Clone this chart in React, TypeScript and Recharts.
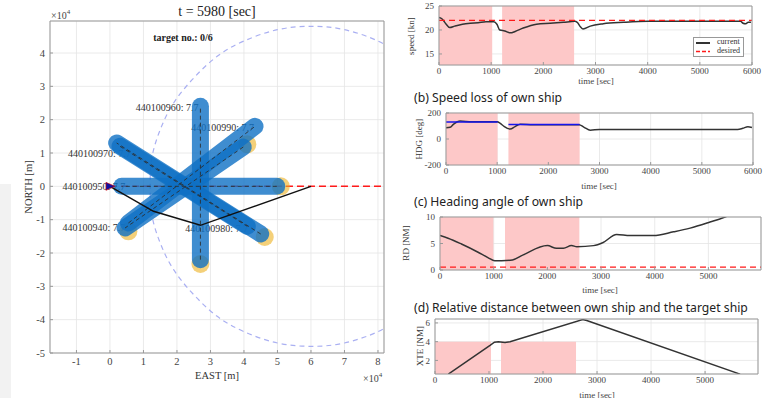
import React from 'react';
import { ComposedChart, Line, Scatter, XAxis, YAxis, CartesianGrid, ReferenceArea } from 'recharts';

const SERIF = "'Liberation Serif', 'Times New Roman', serif";
const SANS = "'Noto Sans', 'Open Sans', sans-serif";

// ---------- (a) map panel ----------
const eastTicks = [-1, 0, 1, 2, 3, 4, 5, 6, 7, 8];
const northTicks = [-5, -4, -3, -2, -1, 0, 1, 2, 3, 4];
const eastDomain = [-1.79, 8.18];
const northDomain = [-5, 4.96];

const targetIds = ['440100960', '440100990', '440100970', '440100950', '440100940', '440100980'];
const targetSpeeds = [7.7, 7.7, 7.7, 7.7, 7.7, 7.7];
const trackStartEast = [2.7, 0.55, 4.5, 4.98, 3.98, 0.3];
const trackStartNorth = [-2.2, -1.1, -1.43, 0, 1.18, 1.2];
const trackEndEast = [2.7, 4.33, 0.2, 0.35, 0.45, 4.1];
const trackEndNorth = [2.4, 1.8, 1.3, 0, -1.25, -1.2];
const labelEast = [2.64, 4.3, 0.62, 0.46, 0.46, 4.12];
const labelNorth = [2.38, 1.76, 1.0, 0, -1.23, -1.26];
const yellowEast = [2.7, 4.62, 5.1, 4.1, 0.55];
const yellowNorth = [-2.33, -1.52, 0, 1.26, -1.35];

const ownEast = [0, 1.3, 2.7, 6.0];
const ownNorth = [0, -0.75, -1.17, 0];
const routeEast = [0, 6.0, 9.5];
const routeNorth = [0, 0, 0];

const circleEast = [8.6, 8.0, 7.0, 6.0, 5.0, 4.0, 3.2, 2.5, 1.9, 1.5, 1.25, 1.2, 1.25, 1.5, 1.9, 2.5, 3.2, 4.0, 5.0, 6.0, 7.0, 8.0, 8.6];
const circleNorth = [4.0, 4.36, 4.7, 4.8, 4.7, 4.36, 3.9, 3.25, 2.5, 1.7, 0.85, 0, -0.85, -1.7, -2.5, -3.25, -3.9, -4.36, -4.7, -4.8, -4.7, -4.36, -4.0];

// ---------- (b) speed ----------
const speedTime = [0, 60, 130, 205, 300, 450, 600, 750, 900, 1050, 1110, 1165, 1260, 1370, 1460, 1615, 1870, 2130, 2385, 2600, 2650, 2700, 2760, 2900, 3150, 3540, 4000, 5000, 5780, 5830, 5870, 5930, 5980];
const speedKn = [22.6, 22.3, 21.3, 20.5, 20.8, 21.2, 21.4, 21.5, 21.7, 21.7, 21.2, 20.0, 19.8, 19.4, 19.7, 20.4, 21.2, 21.4, 21.6, 21.8, 21.6, 20.8, 20.2, 20.8, 21.3, 21.6, 21.8, 21.8, 21.8, 21.4, 21.3, 21.6, 21.6];
const desiredTime = [0, 6000];
const desiredKn = [22, 22];

// ---------- (c) heading ----------
const hdgTime = [0, 80, 150, 275, 500, 1000, 1060, 1125, 1255, 1350, 1450, 1700, 2600, 2700, 2820, 3000, 4000, 5000, 5700, 5800, 5900, 5980];
const hdgDeg = [86, 90, 115, 139, 132, 132, 120, 100, 76, 95, 114, 110, 110, 90, 68, 73, 73, 73, 73, 82, 94, 88];
const cmd1Time = [0, 1010];
const cmd1Deg = [130, 130];
const cmd2Time = [1220, 2610];
const cmd2Deg = [111, 111];

// ---------- (d) relative distance ----------
const rdTime = [0, 150, 400, 700, 900, 1020, 1150, 1350, 1550, 2000, 2170, 2300, 2450, 2550, 2860, 3040, 3290, 3540, 3975, 4350, 4660, 5030, 5310, 5400];
const rdNM = [6.5, 6.0, 4.9, 3.4, 2.3, 1.75, 1.75, 1.9, 2.85, 4.6, 4.1, 4.1, 4.6, 4.4, 4.6, 5.2, 6.7, 6.5, 6.5, 7.2, 7.9, 9.05, 10, 10.4];
const rdLimitTime = [0, 6000];
const rdLimitNM = [0.55, 0.55];

// ---------- (e) cross track error ----------
const xteTime = [247, 1019, 1100, 1173, 1296, 1389, 2735, 2809, 5648];
const xteNM = [0.54, 3.6, 3.95, 4.0, 3.9, 4.0, 6.36, 6.25, 0.54];

// shaded (collision-avoidance) intervals
const shadeStartA = [0, 1210];
const shadeEndA = [1020, 2590];
const shadeStartB = [0, 1220];
const shadeEndB = [1007, 2612];
const shadeStartC = [0, 1211];
const shadeEndC = [994, 2596];
const shadeStartD = [0, 1222];
const shadeEndD = [1037, 2611];

const timeTicks6 = [0, 1000, 2000, 3000, 4000, 5000, 6000];
const timeTicks5 = [0, 1000, 2000, 3000, 4000, 5000];

const toXY = (xs: number[], ys: number[]) => xs.map((x, i) => ({ x, y: ys[i] }));

type FrameProps = {
  left: number; top: number; w: number; h: number;
  xDomain: number[]; yDomain: number[]; xTicks: number[]; yTicks: number[];
  tickFont: number; xh?: number; xMargin?: number; children?: React.ReactNode;
};

function Frame({ left, top, w, h, xDomain, yDomain, xTicks, yTicks, tickFont, xh = 18, xMargin = 6, children }: FrameProps) {
  const yw = 40, mt = 4, mr = 16;
  const tickStyle = { fontSize: tickFont, fontFamily: SERIF, fill: '#444' };
  return (
    <div style={{ position: 'absolute', left: left - yw, top: top - mt }}>
      <ComposedChart width={yw + w + mr} height={mt + h + xh} margin={{ top: mt, right: mr, bottom: 0, left: 0 }}>
        <CartesianGrid stroke="#e4e4e4" strokeWidth={0.8} />
        <XAxis type="number" dataKey="x" domain={xDomain} ticks={xTicks} interval={0} allowDataOverflow height={xh}
          axisLine={false} tickSize={-3} tickMargin={xMargin} tickLine={{ stroke: '#999' }} tick={tickStyle} />
        <YAxis type="number" dataKey="y" domain={yDomain} ticks={yTicks} interval={0} allowDataOverflow width={yw}
          axisLine={false} tickSize={-3} tickMargin={8} tickLine={{ stroke: '#999' }} tick={tickStyle} />
        {children}
        <ReferenceArea x1={xDomain[0]} x2={xDomain[1]} y1={yDomain[0]} y2={yDomain[1]} fill="none"
          stroke="#999" strokeWidth={1} ifOverflow="visible" zIndex={700} />
      </ComposedChart>
    </div>
  );
}

const shades = (starts: number[], ends: number[], bottom?: number, top?: number) =>
  starts.map((s, i) => (
    <ReferenceArea key={'sh' + i} x1={s} x2={ends[i]} y1={bottom} y2={top} fill="#fdc8c8" fillOpacity={1} stroke="none" zIndex={50} />
  ));

const Txt = ({ x, y, children, size = 10, anchor = 'middle', bold = false, family = SERIF, color = '#222', rotate = 0 }: any) => (
  <div style={{
    position: 'absolute', left: x, top: y, fontSize: size, fontFamily: family, color, fontWeight: bold ? 'bold' : 'normal',
    whiteSpace: 'nowrap', lineHeight: 1,
    transform: `translate(${anchor === 'middle' ? '-50%' : anchor === 'end' ? '-100%' : '0'}, -50%) rotate(${rotate}deg)`,
  }}>{children}</div>
);

const LabelShape = (props: any) => (
  <text x={props.cx} y={props.cy + 3.5} textAnchor="end" fontSize={10} fontFamily={SERIF} fill="#333">{props.payload.label}</text>
);
const YellowShape = (props: any) => (
  <circle cx={props.cx} cy={props.cy} r={9} fill="#EDB120" fillOpacity={0.6} />
);
const ShipShape = (props: any) => (
  <polygon points={`${props.cx - 4},${props.cy - 4} ${props.cx + 5},${props.cy} ${props.cx - 4},${props.cy + 4}`} fill="#1010a0" stroke="#d00" strokeWidth={0.6} />
);

export default function App() {
  const labelData = targetIds.map((id, i) => ({ x: labelEast[i], y: labelNorth[i], label: `${id}: ${targetSpeeds[i]}` }));
  return (
    <div style={{ position: 'absolute', left: 0, top: 0, width: 774, height: 398, background: '#fff', overflow: 'hidden' }}>
      <div style={{ position: 'absolute', left: 0, top: 184, width: 11, height: 214, background: '#f2f2f2' }} />

      {/* Map */}
      <Frame left={50} top={21} w={334} h={332} xDomain={eastDomain} yDomain={northDomain} xTicks={eastTicks} yTicks={northTicks} tickFont={10.5} xh={24} xMargin={8}>
        <Line data={toXY(circleEast, circleNorth)} dataKey="y" type="natural" stroke="#aab0f2" strokeWidth={1.2} strokeDasharray="5 4" dot={false} activeDot={false} isAnimationActive={false} zIndex={300} />
        <Line data={toXY(routeEast, routeNorth)} dataKey="y" type="linear" stroke="#ff1a1a" strokeWidth={1.5} strokeDasharray="7 4" dot={false} activeDot={false} isAnimationActive={false} zIndex={310} />
        <Scatter data={labelData} dataKey="y" shape={LabelShape} isAnimationActive={false} zIndex={320} />
        <Scatter data={toXY(yellowEast, yellowNorth)} dataKey="y" shape={YellowShape} isAnimationActive={false} zIndex={330} />
        {targetIds.map((id, i) => (
          <Line key={'b' + id} data={toXY([trackStartEast[i], trackEndEast[i]], [trackStartNorth[i], trackEndNorth[i]])} dataKey="y" type="linear"
            stroke="#0f70c4" strokeOpacity={0.8} strokeWidth={17} strokeLinecap="round" dot={false} activeDot={false} isAnimationActive={false} zIndex={400} />
        ))}
        {targetIds.map((id, i) => (
          <Line key={'d' + id} data={toXY([trackStartEast[i], trackEndEast[i]], [trackStartNorth[i], trackEndNorth[i]])} dataKey="y" type="linear"
            stroke="#2b2b2b" strokeOpacity={0.85} strokeWidth={1} strokeDasharray="4 3" dot={false} activeDot={false} isAnimationActive={false} zIndex={410} />
        ))}
        <Line data={toXY(ownEast, ownNorth)} dataKey="y" type="linear" stroke="#111" strokeWidth={1.5} dot={false} activeDot={false} isAnimationActive={false} zIndex={420} />
        <Scatter data={toXY([ownEast[0]], [ownNorth[0]])} dataKey="y" shape={ShipShape} isAnimationActive={false} zIndex={430} />
      </Frame>
      <Txt x={217} y={12} size={14}>t = 5980 [sec]</Txt>
      <Txt x={183} y={38} size={10} bold>target no.: 0/6</Txt>
      <Txt x={51} y={15} size={10} anchor="start" color="#444">×10<sup style={{ fontSize: 7 }}>4</sup></Txt>
      <Txt x={363} y={378} size={10} anchor="start" color="#444">×10<sup style={{ fontSize: 7 }}>4</sup></Txt>
      <Txt x={217} y={376} size={10.5} color="#333">EAST [m]</Txt>
      <Txt x={29} y={187} size={10.5} color="#333" rotate={-90}>NORTH [m]</Txt>

      {/* Speed */}
      <Frame left={439} top={6} w={313} h={59} xDomain={[0, 6000]} yDomain={[12.7, 25]} xTicks={timeTicks6} yTicks={[15, 20, 25]} tickFont={9}>
        {shades(shadeStartA, shadeEndA)}
        <Line data={toXY(speedTime, speedKn)} dataKey="y" type="monotone" stroke="#333" strokeWidth={1.5} dot={false} activeDot={false} isAnimationActive={false} />
        <Line data={toXY(desiredTime, desiredKn)} dataKey="y" type="linear" stroke="#ff1a1a" strokeWidth={1.4} strokeDasharray="6 4" dot={false} activeDot={false} isAnimationActive={false} />
      </Frame>
      <div style={{ position: 'absolute', left: 693, top: 37, width: 51, height: 20, border: '1px solid #999', background: '#fff', boxSizing: 'border-box' }}>
        <svg width={14} height={18} style={{ position: 'absolute', left: 2, top: 0 }}>
          <line x1={0} x2={14} y1={5} y2={5} stroke="#333" strokeWidth={2} />
          <line x1={0} x2={14} y1={13.5} y2={13.5} stroke="#ff1a1a" strokeWidth={1.5} strokeDasharray="4 2" />
        </svg>
      </div>
      <Txt x={717} y={42} size={8} anchor="start" color="#333">current</Txt>
      <Txt x={717} y={51} size={8} anchor="start" color="#333">desired</Txt>
      <Txt x={411} y={36} size={9} color="#333" rotate={-90}>speed [kn]</Txt>
      <Txt x={596} y={81} size={9} color="#444">time [sec]</Txt>
      <Txt x={414} y={98} size={12.2} anchor="start" family={SANS} color="#222">(b) Speed loss of own ship</Txt>

      {/* Heading */}
      <Frame left={446} top={113} w={307} h={52} xDomain={[0, 6000]} yDomain={[-200, 200]} xTicks={timeTicks6} yTicks={[-200, 0, 200]} tickFont={9}>
        {shades(shadeStartB, shadeEndB)}
        <Line data={toXY(hdgTime, hdgDeg)} dataKey="y" type="monotone" stroke="#333" strokeWidth={1.5} dot={false} activeDot={false} isAnimationActive={false} />
        <Line data={toXY(cmd1Time, cmd1Deg)} dataKey="y" type="linear" stroke="#1515ee" strokeWidth={1.5} dot={false} activeDot={false} isAnimationActive={false} />
        <Line data={toXY(cmd2Time, cmd2Deg)} dataKey="y" type="linear" stroke="#1515ee" strokeWidth={1.5} dot={false} activeDot={false} isAnimationActive={false} />
      </Frame>
      <Txt x={419} y={139} size={9} color="#333" rotate={-90}>HDG [deg]</Txt>
      <Txt x={599} y={186} size={9} color="#444">time [sec]</Txt>
      <Txt x={414} y={202} size={12.2} anchor="start" family={SANS} color="#222">(c) Heading angle of own ship</Txt>

      {/* Relative distance */}
      <Frame left={440} top={217} w={321} h={53} xDomain={[0, 5980]} yDomain={[0, 10]} xTicks={timeTicks5} yTicks={[0, 5, 10]} tickFont={9}>
        {shades(shadeStartC, shadeEndC)}
        <Line data={toXY(rdTime, rdNM)} dataKey="y" type="monotone" stroke="#333" strokeWidth={1.5} dot={false} activeDot={false} isAnimationActive={false} />
        <Line data={toXY(rdLimitTime, rdLimitNM)} dataKey="y" type="linear" stroke="#ff1a1a" strokeWidth={1.4} strokeDasharray="6 4" dot={false} activeDot={false} isAnimationActive={false} />
      </Frame>
      <Txt x={406} y={243} size={9} color="#333" rotate={-90}>RD [NM]</Txt>
      <Txt x={600} y={290} size={9} color="#444">time [sec]</Txt>
      <Txt x={414} y={308} size={12.2} anchor="start" family={SANS} color="#222">(d) Relative distance between own ship and the target ship</Txt>

      {/* XTE */}
      <Frame left={435} top={319} w={323} h={55} xDomain={[0, 5980]} yDomain={[0.55, 6.42]} xTicks={timeTicks5} yTicks={[2, 4, 6]} tickFont={9}>
        {shades(shadeStartD, shadeEndD, 0.55, 4)}
        <Line data={toXY(xteTime, xteNM)} dataKey="y" type="linear" stroke="#333" strokeWidth={1.5} dot={false} activeDot={false} isAnimationActive={false} />
      </Frame>
      <Txt x={420} y={346} size={9} color="#333" rotate={-90}>XTE [NM]</Txt>
      <Txt x={597} y={395} size={9} color="#444">time [sec]</Txt>
    </div>
  );
}
